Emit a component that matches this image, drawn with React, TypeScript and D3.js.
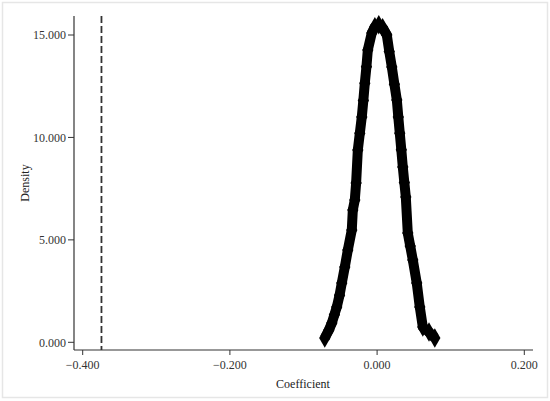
import React from "react";
import * as d3 from "d3";

const coefX: number[] = [
  -0.0711, -0.0655, -0.0615, -0.058, -0.0548, -0.051, -0.048, -0.0439, -0.0398, -0.0344,
  -0.033, -0.0303, -0.0285, -0.0262, -0.0235, -0.0208, -0.0187, -0.0167, -0.0145, -0.0126,
  -0.0072, -0.003, 0.0023, 0.0075, 0.0132, 0.0165, 0.02, 0.0235, 0.0268, 0.0288, 0.0308,
  0.0329, 0.0349, 0.037, 0.039, 0.0417, 0.045, 0.0485, 0.0539, 0.058, 0.0621, 0.0705, 0.0784,
];
const density: number[] = [
  0.21, 0.6, 0.94, 1.35, 1.72, 2.3, 2.89, 3.67, 4.5, 5.48,
  6.46, 6.95, 7.77, 9.39, 10.2, 11.0, 11.8, 12.65, 13.45, 14.27,
  15.1, 15.4, 15.5, 15.35, 15.0, 14.2, 13.44, 12.6, 11.83, 11.0, 10.21,
  9.4, 8.56, 7.8, 7.09, 5.33, 4.7, 4.02, 2.89, 1.72, 0.75, 0.5, 0.21,
];
const xTicks: number[] = [-0.4, -0.2, 0.0, 0.2];
const yTicks: number[] = [0, 5, 10, 15];
const refLine: number = -0.3745;

export default function App() {
  const W = 550, H = 401;
  const x = d3.scaleLinear().domain([-0.4, 0.2]).range([82.7, 524.3]);
  const y = d3.scaleLinear().domain([0, 15]).range([342.3, 35]);
  const axisX = 74, axisY = 350;
  const pts = coefX.map((c, i) => [c, density[i]] as [number, number]);
  const line = d3.line<[number, number]>().x(d => x(d[0])).y(d => y(d[1]));
  const diamond = d3.symbol().type(d3.symbolDiamond).size(110)();
  const fmt = (v: number) => (v < 0 ? "\u2212" : "") + Math.abs(v).toFixed(3);
  const font = "Liberation Serif, DejaVu Serif, serif";
  return (
    <svg width={W} height={H} style={{ position: "absolute", left: 0, top: 0, background: "#fff", fontFamily: font }}>
      <rect x={2.5} y={2.5} width={545} height={395} fill="#fff" stroke="#e6e6e6" strokeWidth={1.5} />
      <line x1={axisX} x2={axisX} y1={16} y2={axisY} stroke="#333" strokeWidth={1.2} />
      <line x1={axisX} x2={533} y1={axisY} y2={axisY} stroke="#333" strokeWidth={1.2} />
      {yTicks.map(t => (
        <g key={"y" + t}>
          <line x1={axisX - 6} x2={axisX} y1={y(t)} y2={y(t)} stroke="#333" strokeWidth={1} />
          <text x={axisX - 8} y={y(t)} dy="0.35em" textAnchor="end" fontSize={12} fill="#333" style={{ fontFamily: font }}>{fmt(t)}</text>
        </g>
      ))}
      {xTicks.map(t => (
        <g key={"x" + t}>
          <line x1={x(t)} x2={x(t)} y1={axisY} y2={axisY + 5} stroke="#333" strokeWidth={1} />
          <text x={x(t)} y={369} textAnchor="middle" fontSize={12} fill="#333" style={{ fontFamily: font }}>{fmt(t)}</text>
        </g>
      ))}
      <text x={303} y={388} textAnchor="middle" fontSize={12} fill="#222" style={{ fontFamily: font }}>Coefficient</text>
      <text transform={`translate(29,183) rotate(-90)`} textAnchor="middle" fontSize={12} fill="#222" style={{ fontFamily: font }}>Density</text>
      <line x1={x(refLine)} x2={x(refLine)} y1={16} y2={axisY} stroke="#333" strokeWidth={1.8} strokeDasharray="7,3" />
      <path d={line(pts) || ""} fill="none" stroke="#000" strokeWidth={10} strokeLinejoin="round" />
      {pts.map((p, i) => (
        <path key={i} d={diamond || ""} transform={`translate(${x(p[0])},${y(p[1])})`} fill="#000" />
      ))}
    </svg>
  );
}
